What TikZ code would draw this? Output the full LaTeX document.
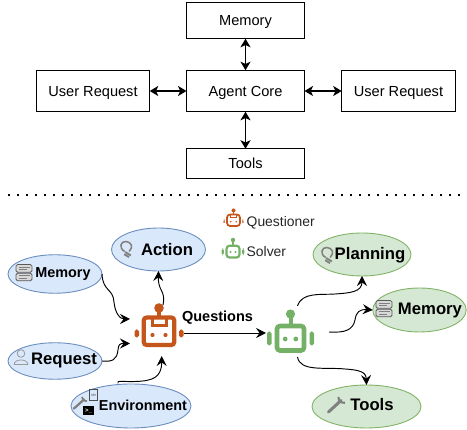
\documentclass[tikz,border=0pt]{standalone}
\usepackage{fontspec}
\setmainfont{Liberation Sans}
\usetikzlibrary{shapes.geometric,arrows.meta}
\definecolor{qorange}{HTML}{C5561B}
\definecolor{sgreen}{HTML}{74B066}
\definecolor{bfill}{HTML}{DAE8FC}
\definecolor{bline}{HTML}{6C8EBF}
\definecolor{gfill}{HTML}{D5E8D4}
\definecolor{gline}{HTML}{82B366}
\definecolor{icong}{HTML}{808080}
\tikzset{
  box/.style={draw=black,line width=.9pt,fill=white,inner sep=0pt,outer sep=0pt,text height=10.4pt,text depth=0pt,font=\fontsize{14.6}{16}\selectfont},
  dblarrow/.style={line width=1.4pt,{Stealth[length=8.5pt,width=10pt,inset=2.2pt]}-{Stealth[length=8.5pt,width=10pt,inset=2.2pt]}},
  flow/.style={line width=.95pt,-{Stealth[length=10pt,width=10pt,inset=3.6pt]}},
  blueell/.style={ellipse,draw=bline,fill=bfill,line width=.9pt,inner sep=0pt,outer sep=0pt},
  greenell/.style={ellipse,draw=gline,fill=gfill,line width=.9pt,inner sep=0pt,outer sep=0pt},
  lab/.style={inner sep=0pt,text height=12pt,text depth=0pt,font=\bfseries\fontsize{16.7}{18}\selectfont},
  labsm/.style={inner sep=0pt,text height=10.4pt,text depth=0pt,font=\bfseries\fontsize{14.4}{16}\selectfont},
  legend/.style={inner sep=0pt,text height=9.8pt,text depth=0pt,font=\fontsize{13.9}{15}\selectfont,text=black!85},
  qbot/.pic={
    \fill[qorange] (0,-25) circle (4.8);
    \fill[qorange] (-2,-22) rectangle (2,-15);
    \draw[qorange,line width=#1*4.2pt,rounded corners=3pt] (-15.3,-15.5) rectangle (15.3,12);
    \draw[qorange,line width=#1*3pt] (-7,-15) -- (-7,-7.5) -- (7,-7.5) -- (7,-15);
    \fill[qorange] (-6.5,2) circle (2.1) (6.5,2) circle (2.1);
    \fill[qorange,rounded corners=1.8pt] (-24.5,-3.5) rectangle (-20,4.5) (20,-3.5) rectangle (24.5,4.5);
  },
  sbot/.pic={
    \fill[sgreen] (0,-24) circle (4.6);
    \fill[sgreen] (-2,-21) rectangle (2,-12);
    \draw[sgreen,line width=#1*4.6pt,rounded corners=3pt] (-13.5,-12) rectangle (13.5,12.5);
    \fill[sgreen] (-5.3,1) circle (2.4) (5.3,1) circle (2.4);
    \fill[sgreen,rounded corners=1.8pt] (-23.5,-6.5) rectangle (-19,7.5) (19,-6.5) rectangle (23.5,7.5);
  },
  memicon/.pic={
    \foreach \yy in {-4.6,4}{
      \draw[black!65,line width=.8pt,fill=white!85!black,rounded corners=1.5pt] (-8,\yy-3.8) rectangle (8,\yy+3.8);
      \draw[icong,line width=.7pt] (-5.5,\yy-1.2) -- (5.5,\yy-1.2) (-5.5,\yy+1.2) -- (3,\yy+1.2);
    }
  },
  bulbicon/.pic={
    \draw[icong,line width=1.5pt] (-1.3,2.5) .. controls (-7.5,-1) and (-5.5,-8) .. (0,-7.5) .. controls (5.5,-7) and (7.5,-2) .. (3.2,2.5);
    \draw[icong,line width=1.8pt] (-.8,3) -- (4.8,6.5) (-1.8,5.2) -- (3,8.2);
  },
  personicon/.pic={
    \draw[icong!80,line width=.8pt] (0,-4.5) circle (3.8);
    \draw[icong!80,line width=.8pt] (-6.8,6.5) .. controls (-6.8,.5) and (6.8,.5) .. (6.8,6.5) -- cycle;
  },
  wrenchicon/.pic={
    \draw[icong,line width=3pt,line cap=round] (-7.5,7) -- (5,-4.5);
    \draw[icong,line width=2.2pt] (2.5,-8) .. controls (2.5,-4) and (5,-1.8) .. (9,-2.3);
  },
  wrenchsm/.pic={
    \draw[icong,line width=2.3pt,line cap=round] (-6,5.5) -- (4,-3.5);
    \draw[icong,line width=1.8pt] (2,-6) .. controls (2.2,-3) and (4,-1.5) .. (7,-1.8);
  },
}
\begin{document}
\begin{tikzpicture}[x=1pt,y=-1pt]
\useasboundingbox (0,0) rectangle (467,430);
% top diagram
\node[box,minimum width=118pt,minimum height=36.5pt] (mem) at (245.5,20.5) {Memory};
\node[box,minimum width=118pt,minimum height=41.5pt] (core) at (245.5,91) {Agent Core};
\node[box,minimum width=113.5pt,minimum height=41.5pt] (ul) at (93,91) {User Request};
\node[box,minimum width=113.5pt,minimum height=41.5pt] (ur) at (398.5,91) {User Request};
\node[box,minimum width=118pt,minimum height=29.5pt] (tools) at (245.5,163.5) {Tools};
\draw[dblarrow] (mem) -- (core);
\draw[dblarrow] (core) -- (tools);
\draw[dblarrow] (ul) -- (core);
\draw[dblarrow] (core) -- (ur);
% separator
\coordinate (sepa) at (8,195);
\coordinate (sepb) at (467,195);
\draw[line width=1.5pt,dash pattern=on 1.6pt off 7.4pt] (sepa) -- (sepb);
% ellipses
\node[blueell,minimum width=94pt,minimum height=43pt] (action) at (158.5,249.5) {};
\node[blueell,minimum width=94pt,minimum height=38.5pt] (memb) at (55,274) {};
\node[blueell,minimum width=94pt,minimum height=36.5pt] (req) at (55,361) {};
\node[blueell,minimum width=120pt,minimum height=44pt] (env) at (131,406) {};
\node[greenell,minimum width=98pt,minimum height=43pt] (plan) at (362,254.5) {};
\node[greenell,minimum width=93.5pt,minimum height=44pt] (memg) at (419.5,310) {};
\node[greenell,minimum width=109pt,minimum height=43pt] (toolg) at (366.5,406.5) {};
% labels
\node[lab] (tact) at (167,249.5) {Action};
\node[labsm] (tmem) at (63,272) {Memory};
\node[lab] (treq) at (64,359) {Request};
\node[labsm] (tenv) at (143,405) {Environment};
\node[lab] (tplan) at (370,253.5) {Planning};
\node[lab] (tmemg) at (430,309) {Memory};
\node[lab] (ttool) at (372,405) {Tools};
\node[labsm,font=\bfseries\fontsize{14.5}{15}\selectfont] (tq) at (217.5,316.5) {Questions};
\node[legend,anchor=west] (lq) at (246.5,222) {Questioner};
\node[legend,anchor=west] (ls) at (246.5,252) {Solver};
% icons
\pic at (126,249) {bulbicon};
\pic at (24,273) {memicon};
\pic at (21,358) {personicon};
\pic at (80,403) {wrenchsm};
\node[draw=black!70,line width=.5pt,minimum width=8pt,minimum height=10.5pt,inner sep=0pt,font=\fontsize{3.5}{4}\selectfont] (doc) at (93.7,395) {</>};
\node[fill=black,text=white,minimum width=11.5pt,minimum height=9pt,inner sep=0pt,font=\bfseries\fontsize{6}{6}\selectfont] (term) at (88.5,411) {>\_};
\pic at (327,255) {bulbicon};
\pic at (384,309) {memicon};
\pic at (336,405) {wrenchicon};
% robots
\pic at (159,333) {qbot=1};
\pic at (290.5,338) {sbot=1};
\pic[scale=.42] at (233.5,221) {qbot=.42};
\pic[scale=.48] at (233,251.5) {sbot=.48};
% named robot ends
\coordinate (qw1) at (130,319);
\coordinate (qw2) at (130,343.5);
\coordinate (qs) at (161.7,356);
\coordinate (qn) at (163,305);
\coordinate (qe) at (184,333);
\coordinate (sw) at (266,333);
\coordinate (sne) at (297.5,306);
\coordinate (se) at (329,332);
\coordinate (sse) at (297.5,357);
\coordinate (envtop) at (118,383.5);
\draw[flow] (memb.east) .. controls (103,292) and (113,288) .. (114,302) .. controls (115,313) and (120,319) .. (qw1);
\draw[flow] (req.east) .. controls (112,362) and (117,360) .. (118,350) .. controls (118.5,344) and (120,343.5) .. (qw2);
\draw[flow] (envtop) .. controls (115,380) and (125,382) .. (135,381.5) .. controls (152,381) and (161.7,378) .. (qs);
\draw[flow] (qn) .. controls (166,290) and (158,292) .. (action.south);
\draw[flow] (qe) -- (sw);
\draw[flow] (sne) .. controls (302,292) and (320,295) .. (335,294) .. controls (350,293) and (362,292) .. (plan.south);
\draw[flow] (se) .. controls (345,333) and (353,330) .. (355,320) .. controls (356,312) and (360,309) .. (memg.west);
\draw[flow] (sse) .. controls (300,372) and (325,367) .. (345,369) .. controls (360,370) and (366,372) .. (toolg.north);
\end{tikzpicture}
\end{document}
